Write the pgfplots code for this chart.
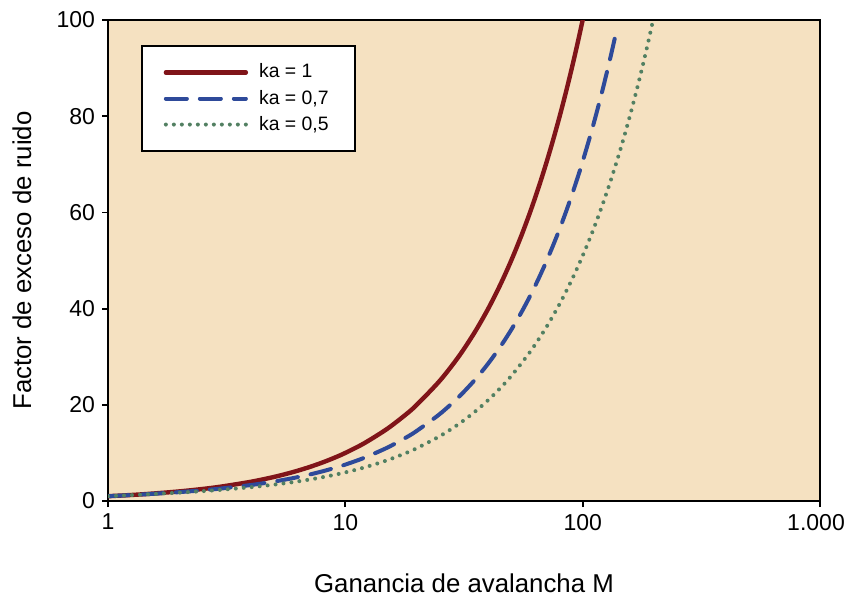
\documentclass[border=0pt]{standalone}
\usepackage{fontspec}
\setmainfont{Liberation Sans}
\usepackage{pgfplots}
\pgfplotsset{compat=1.18}

\definecolor{bgwheat}{RGB}{245,225,193}
\definecolor{kred}{RGB}{128,20,25}
\definecolor{kblue}{RGB}{46,74,154}
\definecolor{kgreen}{RGB}{82,128,98}

\begin{document}
\begin{tikzpicture}
\begin{axis}[
  xmode=log,
  scale only axis,
  width=356pt, height=240.5pt,
  xmin=1, xmax=1000,
  ymin=0, ymax=100,
  xtick={1,10,100,1000},
  xticklabels={1,10,100,1.000\kern4pt},
  ytick={0,20,40,60,80,100},
  yticklabels={0,20,40,60,80,100},
  xminorticks=false,
  tick align=outside,
  xtick pos=bottom, ytick pos=left,
  major tick length=3pt,
  axis line style={line width=0.9pt},
  every tick/.style={line width=0.9pt, black},
  tick label style={font=\fontsize{11.5}{14}\selectfont},
  xticklabel style={inner xsep=0pt},
  label style={font=\fontsize{12.9}{15}\selectfont},
  xlabel={Ganancia de avalancha M},
  ylabel={Factor de exceso de ruido},
  x label style={at={(axis description cs:0.5,-0.17)}, anchor=center},
  y label style={at={(axis description cs:-0.121,0.5)}, anchor=center},
  axis background/.style={fill=bgwheat},
  clip=true,
  legend cell align=left,
  legend style={at={(0.046,0.948)}, anchor=north west, draw=black, line width=0.9pt,
    fill=white, font=\fontsize{9.7}{11}\selectfont, inner xsep=11pt, inner ysep=7pt,
    row sep=0.5pt},
  legend image code/.code={\draw[#1] (0pt,0pt) -- (40pt,0pt); \path (43.5pt,0pt);},
]
\addplot[kred, line width=2.2pt, line cap=round, smooth] coordinates {
  (1,1) (1.25,1.25) (1.5,1.5) (2,2) (2.5,2.5) (3,3) (4,4) (5,5) (6,6) (7,7) (8,8) (9,9) (10,10)
  (12,12) (15,15) (18,18) (20,20) (25,25) (30,30) (35,35) (40,40) (45,45) (50,50)
  (55,55) (60,60) (65,65) (70,70) (75,75) (80,80) (85,85) (90,90) (95,95) (100,100)
};
\addlegendentry{ka = 1}
\addplot[kblue, line width=2pt, line cap=round, dash pattern=on 10.5pt off 6.5pt, smooth] coordinates {
  (1,1.0) (1.25,1.235) (1.5,1.45) (2,1.85) (2.5,2.23) (3,2.6) (4,3.325) (5,4.04) (6,4.75) (7,5.457)
  (8,6.1625) (9,6.867) (10,7.57) (12,8.975) (15,11.08) (18,13.183) (20,14.585) (25,18.088)
  (30,21.59) (35,25.091) (40,28.593) (45,32.093) (50,35.594) (55,39.095) (60,42.595)
  (65,46.095) (70,49.596) (75,53.096) (80,56.596) (85,60.096) (90,63.597) (95,67.097)
  (100,70.597) (110,77.597) (120,84.598) (130,91.598) (139,97.898)
};
\addlegendentry{ka = 0,7}
\addplot[kgreen, line width=2pt, line cap=round, dash pattern=on 0pt off 4pt, smooth] coordinates {
  (1,1.0) (1.25,1.225) (1.5,1.417) (2,1.75) (2.5,2.05) (3,2.333) (4,2.875) (5,3.4) (6,3.917) (7,4.429)
  (8,4.9375) (9,5.444) (10,5.95) (12,6.958) (15,8.467) (18,9.972) (20,10.975) (25,13.48)
  (30,15.983) (35,18.486) (40,20.988) (45,23.489) (50,25.99) (60,30.992) (70,35.993)
  (80,40.994) (90,45.994) (100,50.995) (110,55.995) (120,60.996) (130,65.996) (140,70.996)
  (150,75.997) (160,80.997) (170,85.997) (180,90.997) (190,95.997) (198,99.998)
};
\addlegendentry{ka = 0,5}
\coordinate (bl) at (rel axis cs:-0.1517,-0.2017);
\coordinate (tr) at (rel axis cs:1.0379,1.0416);
\end{axis}
\pgfresetboundingbox
\path[use as bounding box] (bl) rectangle (tr);
\end{tikzpicture}
\end{document}
